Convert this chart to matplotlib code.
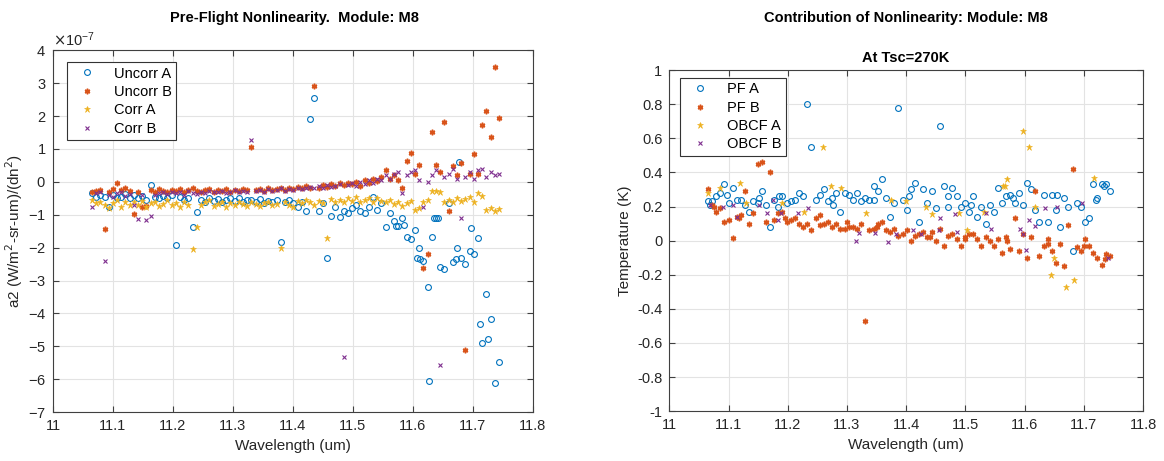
import numpy as np
import matplotlib
matplotlib.use("Agg")
import matplotlib.pyplot as plt

plt.rcParams['font.family'] = ['Liberation Sans', 'DejaVu Sans']
plt.rcParams['axes.unicode_minus'] = False

# channel wavelengths (um)
wl = [11.065, 11.072, 11.079, 11.086, 11.093, 11.100, 11.107, 11.114, 11.121, 11.128,
      11.135, 11.142, 11.149, 11.156, 11.163, 11.170, 11.177, 11.184, 11.191, 11.198,
      11.205, 11.212, 11.219, 11.226, 11.233, 11.240, 11.247, 11.254, 11.261, 11.268,
      11.275, 11.282, 11.289, 11.296, 11.303, 11.310, 11.317, 11.324, 11.331, 11.338,
      11.345, 11.352, 11.359, 11.366, 11.373, 11.380, 11.387, 11.394, 11.401, 11.408,
      11.415, 11.422, 11.429, 11.436, 11.443, 11.450, 11.457, 11.464, 11.471, 11.478,
      11.485, 11.492, 11.499, 11.506, 11.513, 11.520, 11.527, 11.534, 11.541, 11.548,
      11.555, 11.562, 11.569, 11.576, 11.583, 11.590, 11.597, 11.604, 11.611, 11.618,
      11.625, 11.632, 11.639, 11.646, 11.653, 11.660, 11.667, 11.674, 11.681, 11.688,
      11.695, 11.702, 11.709, 11.716, 11.723, 11.730, 11.737, 11.744]

# ---- left panel: a2 coefficients, in units of 1e-7 ----
uncorr_a = [-0.35, -0.45, -0.40, -0.45, -0.75, -0.40, -0.50, -0.45, -0.38, -0.48,
            -0.40, -0.50, -0.42, -0.55, -0.10, -0.45, -0.50, -0.42, -0.48, -0.40,
            -1.93, -0.45, -0.55, -0.50, -1.38, -0.92, -0.55, -0.60, -0.50, -0.58,
            -0.52, -0.60, -0.55, -0.48, -0.58, -0.50, -0.62, -0.55, -0.55, -0.60,
            -0.52, -0.65, -0.58, -0.62, -0.55, -1.84, -0.60, -0.55, -0.65, -0.75,
            -0.60, -0.90, 1.90, 2.54, -0.90, -0.65, -2.33, -1.05, -0.75, -1.08,
            -0.90, -0.95, -0.80, -0.70, -0.90, -0.95, -0.75, -0.45, -0.85, -0.65,
            -1.38, -0.95, -1.20, -1.35, -1.10, -1.67, -1.75, -1.45, -2.00, -2.40,
            -3.20, -1.67, -1.10, -2.60, -2.65, -0.65, -2.45, -2.00, -2.30, -2.50,
            -2.10, -2.20, -1.70, -4.90, -3.40, -4.18, -6.12, -5.48]
uncorr_a_extra_x = [11.573, 11.585, 11.607, 11.613, 11.627, 11.636, 11.643,
                    11.673, 11.678, 11.698, 11.712, 11.725]
uncorr_a_extra_y = [-1.35, -1.30, -2.30, -2.35, -6.06, -1.10, -1.10,
                    -2.35, 0.60, -1.40, -4.33, -4.78]

uncorr_b = [-0.32, -0.27, -0.25, -1.43, -0.30, -0.22, -0.05, -0.25, -0.20, -0.28,
            -0.97, -0.30, -0.75, -0.72, -0.25, -0.30, -0.22, -0.28, -0.32, -0.25,
            -0.28, -0.22, -0.30, -0.25, -0.20, -0.28, -0.32, -0.25, -0.22, -0.30,
            -0.25, -0.28, -0.22, -0.30, -0.25, -0.27, -0.23, -0.26, 1.05, -0.25,
            -0.22, -0.28, -0.20, -0.24, -0.22, -0.20, -0.25, -0.18, -0.22, -0.15,
            -0.20, -0.12, -0.18, 2.90, -0.20, -0.10, -0.15, -0.08, -0.12, -0.05,
            -0.10, -0.02, -0.08, 0.00, -0.12, 0.05, -0.05, 0.10, 0.02, 0.15,
            0.35, 0.10, 0.20, 0.05, -0.20, 0.63, 0.87, 0.25, 0.50, -2.62,
            -2.18, 1.50, 0.50, 0.30, 1.81, -0.90, 0.47, 0.20, 0.56, -5.12,
            0.25, 0.84, 0.25, 1.72, 2.15, 1.35, 3.48, 1.94]

corr_a = [-0.55, -0.65, -0.60, -0.70, -0.80, -0.65, -0.55, -0.75, -0.60, -0.70,
          -0.62, -0.70, -0.58, -0.75, -0.65, -0.60, -0.72, -0.68, -0.55, -0.70,
          -0.65, -0.75, -0.60, -0.70, -2.03, -1.38, -0.70, -0.62, -0.55, -0.72,
          -0.68, -0.60, -0.75, -0.65, -0.70, -0.62, -0.68, -0.72, -0.60, -0.66,
          -0.72, -0.65, -0.60, -0.70, -0.68, -2.00, -0.62, -0.70, -0.75, -0.58,
          -0.65, -0.55, -0.62, -0.70, -0.58, -0.65, -1.70, -0.52, -0.62, -0.55,
          -0.60, -0.50, -0.58, -0.45, -0.62, -0.55, -0.48, -0.60, -0.50, -0.58,
          -0.62, -0.55, -0.68, -0.60, -0.72, -0.65, -0.58, -0.85, -0.80, -0.62,
          -0.55, -0.27, -0.28, -0.30, -0.60, -0.55, -0.62, -0.50, -0.58, -0.52,
          -0.45, -0.60, -0.35, -0.42, -0.85, -0.80, -0.88, -0.82]

corr_b = [-0.77, -0.35, -0.30, -2.42, -0.40, -0.45, -0.35, -0.30, -0.42, -0.38,
          -0.70, -1.14, -0.40, -1.17, -1.03, -0.40, -0.35, -0.30, -0.38, -0.32,
          -0.35, -0.30, -0.40, -0.28, -0.33, -0.38, -0.30, -0.35, -0.27, -0.32,
          -0.30, -0.28, -0.35, -0.30, -0.25, -0.32, -0.28, -0.30, 1.26, -0.27,
          -0.25, -0.30, -0.22, -0.28, -0.25, -0.20, -0.27, -0.22, -0.25, -0.18,
          -0.22, -0.20, -0.15, -0.18, -0.12, -0.20, -0.10, -0.15, -0.12, -0.08,
          -5.33, -0.10, -0.05, -0.12, 0.00, -0.08, 0.05, -0.02, 0.10, 0.05,
          0.20, 0.10, 0.25, 0.30, -0.35, 0.20, 0.30, 0.35, 0.05, -0.75,
          0.00, 0.20, 0.35, -5.57, 0.15, 0.25, 0.40, 0.10, -1.10, 0.15,
          0.30, 0.10, 0.35, 0.40, 0.15, 0.30, 0.20, 0.25]

# ---- right panel: temperature contribution (K) at Tsc=270K ----
pf_a = [0.23, 0.23, 0.26, 0.28, 0.33, 0.22, 0.31, 0.24, 0.24, 0.21,
        0.17, 0.23, 0.22, 0.29, 0.21, 0.08, 0.24, 0.20, 0.26, 0.22,
        0.23, 0.24, 0.28, 0.26, 0.80, 0.55, 0.24, 0.27, 0.30, 0.23,
        0.25, 0.28, 0.17, 0.28, 0.27, 0.24, 0.28, 0.23, 0.25, 0.24,
        0.32, 0.29, 0.36, 0.25, 0.14, 0.22, 0.78, 0.24, 0.18, 0.30,
        0.34, 0.11, 0.30, 0.22, 0.29, 0.19, 0.67, 0.32, 0.20, 0.31,
        0.26, 0.20, 0.22, 0.17, 0.26, 0.14, 0.20, 0.10, 0.21, 0.17,
        0.31, 0.22, 0.26, 0.27, 0.22, 0.28, 0.21, 0.34, 0.30, 0.18,
        0.11, 0.27, 0.11, 0.27, 0.18, 0.08, 0.25, 0.20, -0.06, 0.22,
        0.20, 0.11, 0.13, 0.33, 0.25, 0.33, 0.33, 0.29]
pf_a_extra_x = [11.068, 11.097, 11.152, 11.185, 11.276, 11.345, 11.405,
                11.470, 11.510, 11.580, 11.655, 11.720, 11.734]
pf_a_extra_y = [0.21, 0.27, 0.25, 0.26, 0.21, 0.24, 0.26,
                0.26, 0.21, 0.25, 0.27, 0.24, 0.32]

pf_b = [0.30, 0.21, 0.17, 0.19, 0.11, 0.12, 0.015, 0.14, 0.15, 0.29,
        0.10, 0.16, 0.45, 0.46, 0.11, 0.40, 0.12, 0.16, 0.17, 0.11,
        0.12, 0.13, 0.10, 0.08, 0.10, 0.06, 0.13, 0.15, 0.10, 0.11,
        0.08, 0.10, 0.07, 0.07, 0.08, 0.08, 0.07, 0.10, -0.47, 0.06,
        0.07, 0.10, 0.11, 0.06, 0.05, 0.07, 0.03, 0.04, 0.06, -0.005,
        0.03, 0.04, 0.05, 0.02, 0.05, 0.00, 0.07, -0.03, 0.03, 0.04,
        0.01, -0.03, 0.01, 0.04, 0.04, 0.01, -0.03, 0.02, 0.00, -0.03,
        0.01, -0.07, 0.02, -0.05, 0.13, -0.06, 0.04, -0.10, 0.02, 0.29,
        -0.09, -0.03, 0.01, -0.06, -0.13, -0.02, -0.15, 0.09, 0.42, -0.04,
        -0.06, 0.01, -0.03, -0.07, -0.10, -0.14, -0.08, -0.09]
pf_b_extra_x = [11.075, 11.118, 11.195, 11.255, 11.300, 11.350, 11.440,
                11.500, 11.570, 11.640, 11.700, 11.735]
pf_b_extra_y = [0.20, 0.13, 0.13, 0.09, 0.11, 0.08, 0.02,
                0.02, 0.00, -0.02, -0.03, -0.11]

obcf_a_x = [11.065, 11.085, 11.120, 11.130, 11.190, 11.227, 11.260, 11.273,
            11.290, 11.332, 11.374, 11.400, 11.433, 11.443, 11.490, 11.502,
            11.532, 11.564, 11.567, 11.570, 11.598, 11.608, 11.617, 11.645,
            11.650, 11.670, 11.684, 11.717]
obcf_a_y = [0.28, 0.31, 0.34, 0.22, 0.22, 0.17, 0.55, 0.32,
            0.31, 0.16, 0.24, 0.23, 0.20, 0.155, 0.16, 0.06,
            0.17, 0.32, 0.32, 0.36, 0.64, 0.55, 0.20, -0.20,
            -0.10, -0.27, -0.23, 0.37]

obcf_b_x = [11.068, 11.090, 11.107, 11.115, 11.152, 11.165, 11.175, 11.183,
            11.188, 11.217, 11.234, 11.315, 11.320, 11.348, 11.370, 11.383,
            11.412, 11.425, 11.455, 11.457, 11.482, 11.485, 11.535, 11.543,
            11.592, 11.597, 11.603, 11.608, 11.618, 11.635, 11.655, 11.697,
            11.740]
obcf_b_y = [0.21, 0.20, 0.21, 0.14, 0.21, 0.16, 0.24, 0.12,
            0.16, 0.16, 0.19, 0.00, 0.045, 0.045, -0.01, 0.04,
            0.06, 0.04, 0.06, 0.13, 0.155, 0.05, 0.16, 0.07,
            0.07, 0.04, -0.055, 0.12, 0.085, 0.19, 0.20, 0.22,
            -0.10]

# MATLAB default colours
c_blue = '#0072BD'
c_orange = '#D95319'
c_yellow = '#EDB120'
c_purple = '#7E2F8E'

asterisk = (6, 2, 0)
sty_circ = dict(ls='none', marker='o', ms=4.2, mfc='none', mec=c_blue, mew=0.8)
sty_ast = dict(ls='none', marker=asterisk, ms=4.0, mec=c_orange, mew=1.1)
sty_star = dict(ls='none', marker='*', ms=5.0, mfc=c_yellow, mec=c_yellow, mew=0.4)
sty_x = dict(ls='none', marker='x', ms=3.0, mec=c_purple, mew=0.8)

xt = [11, 11.1, 11.2, 11.3, 11.4, 11.5, 11.6, 11.7, 11.8]
xt_labels = ['11', '11.1', '11.2', '11.3', '11.4', '11.5', '11.6', '11.7', '11.8']


def style_axes(ax):
    ax.grid(True, color='#e3e3e3', lw=0.8)
    ax.set_axisbelow(True)
    ax.tick_params(direction='in', top=True, right=True, length=4,
                   labelsize=10.5, color='0.25', labelcolor='0.15', pad=5)
    for sp in ax.spines.values():
        sp.set_color('0.25')
        sp.set_linewidth(0.8)


fig = plt.figure(figsize=(11.64, 4.61), dpi=100)
ax1 = fig.add_axes([0.0455, 0.106, 0.412, 0.785])
ax2 = fig.add_axes([0.575, 0.108, 0.407, 0.740])

scale = 1e-7
x = np.array(wl)
ax1.plot(np.r_[x, uncorr_a_extra_x], np.r_[uncorr_a, uncorr_a_extra_y] * scale,
         label='Uncorr A', **sty_circ)
ax1.plot(x, np.array(uncorr_b) * scale, label='Uncorr B', **sty_ast)
ax1.plot(x, np.array(corr_a) * scale, label='Corr A', **sty_star)
ax1.plot(x, np.array(corr_b) * scale, label='Corr B', **sty_x)
ax1.set_xlim(11, 11.8)
ax1.set_ylim(-7e-7, 4e-7)
ax1.set_yticks(np.arange(-7, 5) * scale)
ax1.set_xticks(xt)
ax1.set_xticklabels(xt_labels)
fmt = matplotlib.ticker.ScalarFormatter(useMathText=True)
fmt.set_powerlimits((0, 0))
ax1.yaxis.set_major_formatter(fmt)
ax1.yaxis.get_offset_text().set_fontsize(10.5)
ax1.yaxis.get_offset_text().set_color('0.15')
ax1.set_xlabel('Wavelength (um)', fontsize=11, color='0.15')
ax1.set_ylabel('a2 (W/m$^2$-sr-um)/(dn$^2$)', fontsize=11, color='0.15', labelpad=2)
style_axes(ax1)
leg1 = ax1.legend(loc='upper left', bbox_to_anchor=(0.029, 0.967), borderaxespad=0,
                  fontsize=10.5, fancybox=False, edgecolor='0.2', framealpha=1,
                  borderpad=0.3, handlelength=2.1, handletextpad=0.8, labelspacing=0.3)
leg1.get_frame().set_linewidth(0.8)

ax2.plot(np.r_[x, pf_a_extra_x], np.r_[pf_a, pf_a_extra_y], label='PF A', **sty_circ)
ax2.plot(np.r_[x, pf_b_extra_x], np.r_[pf_b, pf_b_extra_y], label='PF B', **sty_ast)
ax2.plot(obcf_a_x, obcf_a_y, label='OBCF A', **sty_star)
ax2.plot(obcf_b_x, obcf_b_y, label='OBCF B', **sty_x)
ax2.set_xlim(11, 11.8)
ax2.set_ylim(-1, 1)
ax2.set_yticks([-1, -0.8, -0.6, -0.4, -0.2, 0, 0.2, 0.4, 0.6, 0.8, 1])
ax2.set_yticklabels(['-1', '-0.8', '-0.6', '-0.4', '-0.2', '0', '0.2', '0.4', '0.6', '0.8', '1'])
ax2.set_xticks(xt)
ax2.set_xticklabels(xt_labels)
ax2.set_xlabel('Wavelength (um)', fontsize=11, color='0.15')
ax2.set_ylabel('Temperature (K)', fontsize=11, color='0.15', labelpad=4)
ax2.set_title('At Tsc=270K', fontsize=10.5, fontweight='bold', pad=6)
style_axes(ax2)
leg2 = ax2.legend(loc='upper left', bbox_to_anchor=(0.023, 0.977), borderaxespad=0,
                  fontsize=10.5, fancybox=False, edgecolor='0.2', framealpha=1,
                  borderpad=0.3, handlelength=2.1, handletextpad=0.8, labelspacing=0.3)
leg2.get_frame().set_linewidth(0.8)

fig.text(0.253, 0.962, 'Pre-Flight Nonlinearity.  Module: M8', ha='center', va='center',
         fontsize=10.5, fontweight='bold')
fig.text(0.778, 0.962, 'Contribution of Nonlinearity: Module: M8', ha='center', va='center',
         fontsize=10.5, fontweight='bold')

fig.savefig('out.png', dpi=100)
